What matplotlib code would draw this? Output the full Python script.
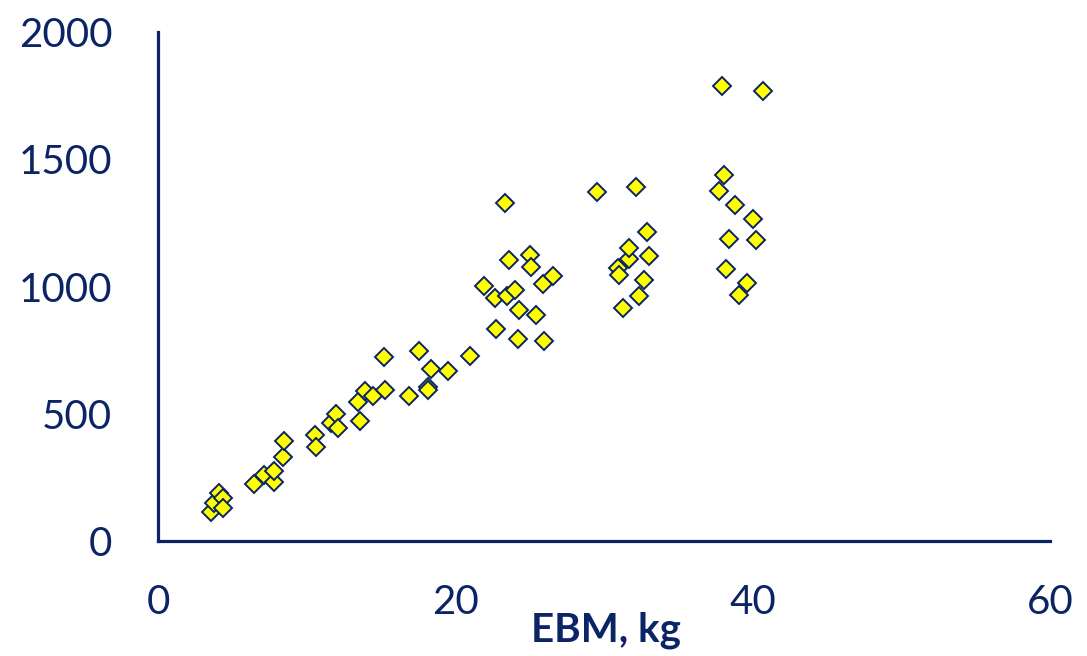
import matplotlib
matplotlib.use("Agg")
from matplotlib import pyplot as plt

# EBM (kg) vs. value
ebm = [3.55, 3.77, 4.1, 4.34, 4.34, 6.43, 7.1, 7.78, 7.78, 8.39, 8.5,
       10.53, 10.64, 11.6, 12.0, 12.1, 13.46, 13.57, 13.9, 14.47, 15.19, 15.26,
       16.9, 17.58, 18.14, 18.19, 18.36, 19.5, 21.0,
       21.95, 22.69, 22.74, 23.32, 23.48, 23.6, 24.0, 24.2, 24.27, 25.0, 25.12,
       25.4, 25.9, 25.96, 26.6,
       29.5, 30.96, 31.03, 31.25, 31.66, 31.7, 32.15, 32.33, 32.67, 32.87, 33.05,
       37.72, 37.96, 38.07, 38.23, 38.41, 38.82, 39.1, 39.6, 40.05, 40.19, 40.66]
vals = [113, 148, 188, 168, 129, 224, 260, 233, 277, 332, 391,
        417, 371, 463, 499, 444, 548, 472, 588, 568, 723, 594,
        568, 748, 607, 592, 676, 669, 728,
        1001, 955, 833, 1330, 962, 1106, 985, 794, 907, 1123, 1078,
        889, 1008, 787, 1041,
        1373, 1074, 1047, 916, 1109, 1152, 1391, 961, 1024, 1215, 1120,
        1375, 1786, 1437, 1070, 1185, 1320, 965, 1015, 1264, 1182, 1769]

navy = '#0B2465'

plt.rcParams['font.family'] = ['Lato', 'DejaVu Sans']

fig = plt.figure(figsize=(10.87, 6.56), dpi=100)
ax = fig.add_axes([0.1454, 0.1753, 0.8206, 0.7759])

ax.plot(ebm, vals, linestyle='none', marker='D', markersize=9.2,
        markerfacecolor='#FFFF00', markeredgecolor=navy, markeredgewidth=1.4)

ax.set_xlim(0, 60)
ax.set_ylim(0, 2000)
ax.set_xticks([0, 20, 40, 60])
ax.set_yticks([0, 500, 1000, 1500, 2000])

for s in ['top', 'right']:
    ax.spines[s].set_visible(False)
for s in ['left', 'bottom']:
    ax.spines[s].set_color(navy)
    ax.spines[s].set_linewidth(2.3)

ax.tick_params(axis='both', length=0, labelsize=29, labelcolor=navy)
ax.tick_params(axis='y', pad=33)
ax.tick_params(axis='x', pad=31)

ax.set_xlabel('EBM, kg', fontsize=29, fontweight='bold', color=navy)
ax.xaxis.set_label_coords(0.502, -0.198)
ax.xaxis.label.set_verticalalignment('baseline')

fig.savefig('out.png', dpi=100)
